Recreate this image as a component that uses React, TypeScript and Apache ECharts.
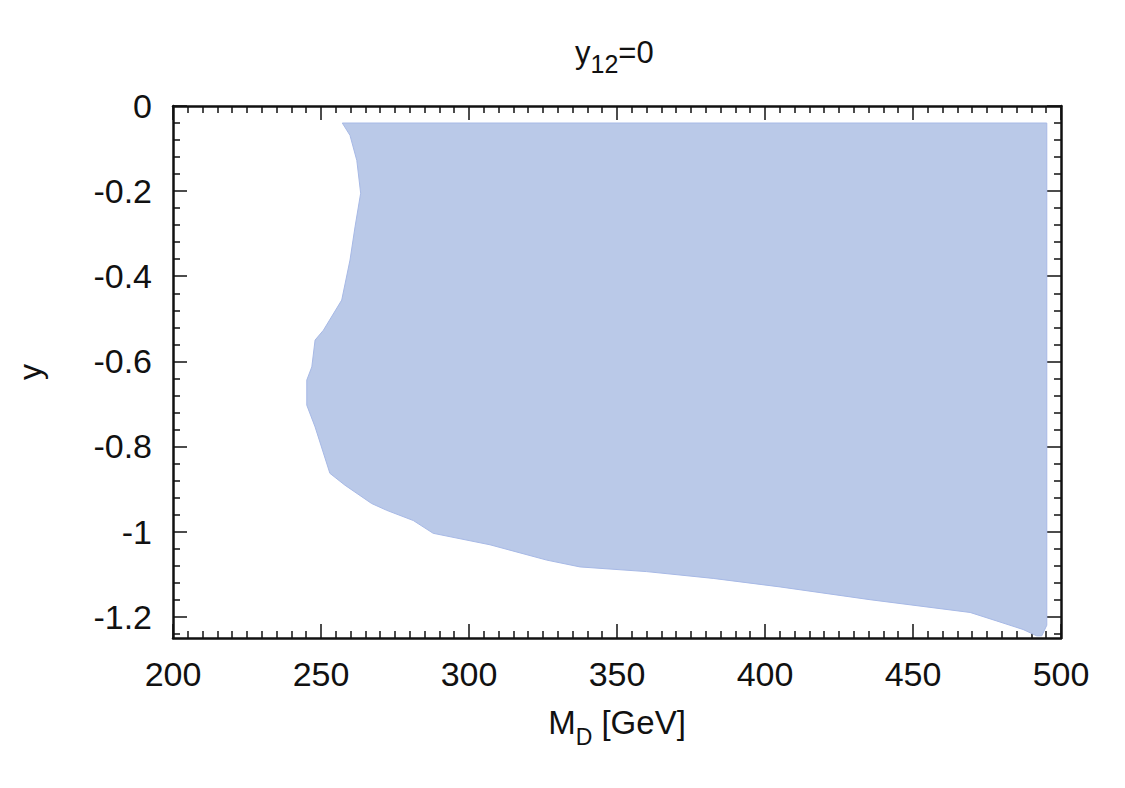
import React, { useEffect, useRef } from "react";
import * as echarts from "echarts";

// Boundary of the shaded region (M_D [GeV], y), traced clockwise
const regionX = [
  257.2, 495.2, 495.2, 493.5, 491.8, 487.2, 478.3, 469.3, 435.5, 405.1, 382.5,
  360.0, 337.5, 326.3, 307.1, 287.9, 281.2, 272.2, 267.1, 258.1, 253.0, 248.0,
  245.2, 245.2, 246.9, 248.0, 250.8, 257.0, 259.8, 261.5, 263.4, 262.1, 259.8,
];
const regionY = [
  -0.04, -0.04, -1.22, -1.245, -1.245, -1.23, -1.21, -1.19, -1.16, -1.13, -1.11,
  -1.094, -1.083, -1.067, -1.031, -1.004, -0.974, -0.95, -0.934, -0.891, -0.863, -0.754,
  -0.703, -0.644, -0.613, -0.55, -0.527, -0.456, -0.362, -0.284, -0.205, -0.128, -0.069,
];

const xMin = 200;
const xMax = 500;
const xStep = 50;
const yMin = -1.25;
const yMax = 0;
const yMajorTicks = [0, -0.2, -0.4, -0.6, -0.8, -1, -1.2];
const yMinorTicks = [
  -0.04, -0.08, -0.12, -0.16, -0.24, -0.28, -0.32, -0.36, -0.44, -0.48, -0.52,
  -0.56, -0.64, -0.68, -0.72, -0.76, -0.84, -0.88, -0.92, -0.96, -1.04, -1.08,
  -1.12, -1.16, -1.24,
];

const FONT = "'Liberation Sans', Arial, Helvetica, sans-serif";
const INK = "#111111";

export default function App() {
  const ref = useRef<HTMLDivElement>(null);

  useEffect(() => {
    if (!ref.current) return;
    const chart = echarts.init(ref.current, undefined, { renderer: "svg" });

    const xBase = (pos: "bottom" | "top", labels: boolean) => ({
      type: "value",
      position: pos,
      min: xMin,
      max: xMax,
      interval: xStep,
      axisLine: { show: true, onZero: false, lineStyle: { color: INK, width: 2.5 } },
      axisTick: { show: true, inside: true, length: 14, lineStyle: { color: INK, width: 1.5 } },
      minorTick: { show: true, splitNumber: 10, length: 7, lineStyle: { color: INK, width: 1.5 } },
      axisLabel: {
        show: labels,
        fontSize: 34,
        fontFamily: FONT,
        color: INK,
        margin: 19,
      },
      splitLine: { show: false },
      minorSplitLine: { show: false },
    });

    const yBase = (
      pos: "left" | "right",
      ticks: number[],
      len: number,
      labels: boolean,
      line: boolean
    ) => ({
      type: "value",
      position: pos,
      min: yMin,
      max: yMax,
      axisLine: { show: line, onZero: false, lineStyle: { color: INK, width: 2.5 } },
      axisTick: {
        show: true,
        inside: true,
        length: len,
        customValues: ticks,
        lineStyle: { color: INK, width: 1.5 },
      },
      axisLabel: {
        show: labels,
        customValues: yMajorTicks,
        fontSize: 34,
        fontFamily: FONT,
        color: INK,
        margin: 21,
      },
      splitLine: { show: false },
    });

    const xMain: any = xBase("bottom", true);
    xMain.name = "{a|M}{s|D}{a| [GeV]}";
    xMain.nameLocation = "middle";
    xMain.nameGap = 68;
    xMain.nameTextStyle = {
      rich: {
        a: { fontSize: 33, fontFamily: FONT, color: INK, lineHeight: 33, verticalAlign: "top" },
        s: { fontSize: 23, fontFamily: FONT, color: INK, lineHeight: 42, verticalAlign: "bottom" },
      },
    };

    const yMainAxis: any = yBase("left", yMajorTicks, 14, true, true);
    yMainAxis.name = "y";
    yMainAxis.nameLocation = "middle";
    yMainAxis.nameRotate = 90;
    yMainAxis.nameGap = 127;
    yMainAxis.nameTextStyle = { fontSize: 32, fontFamily: FONT, color: INK };

    const option: any = {
      animation: false,
      backgroundColor: "#ffffff",
      title: {
        text: "{a|y}{s|12}{a|=0}",
        left: 575,
        top: 37,
        padding: 0,
        textStyle: {
          fontWeight: "normal",
          rich: {
            a: { fontSize: 31, fontWeight: "normal", fontFamily: FONT, color: INK, lineHeight: 31, verticalAlign: "top" },
            s: { fontSize: 25, fontWeight: "normal", fontFamily: FONT, color: INK, lineHeight: 39, verticalAlign: "bottom" },
          },
        },
      },
      grid: { left: 173, top: 106, width: 888, height: 532, containLabel: false },
      xAxis: [xMain, xBase("top", false)],
      yAxis: [
        yMainAxis,
        yBase("left", yMinorTicks, 7, false, false),
        yBase("right", yMajorTicks, 14, false, true),
        yBase("right", yMinorTicks, 7, false, false),
      ],
      series: [
        {
          type: "custom",
          xAxisIndex: 0,
          yAxisIndex: 0,
          clip: true,
          data: [[regionX[0], regionY[0]]],
          renderItem: (_params: any, api: any) => {
            const points = regionX.map((x, i) => api.coord([x, regionY[i]]));
            return {
              type: "polygon",
              shape: { points },
              style: { fill: "#bac9e8", stroke: "#a7b9e6", lineWidth: 1 },
            };
          },
        },
      ],
    };

    chart.setOption(option);
    return () => chart.dispose();
  }, []);

  return (
    <div
      ref={ref}
      style={{ position: "fixed", left: 0, top: 0, width: 1125, height: 788, background: "#fff" }}
    />
  );
}
